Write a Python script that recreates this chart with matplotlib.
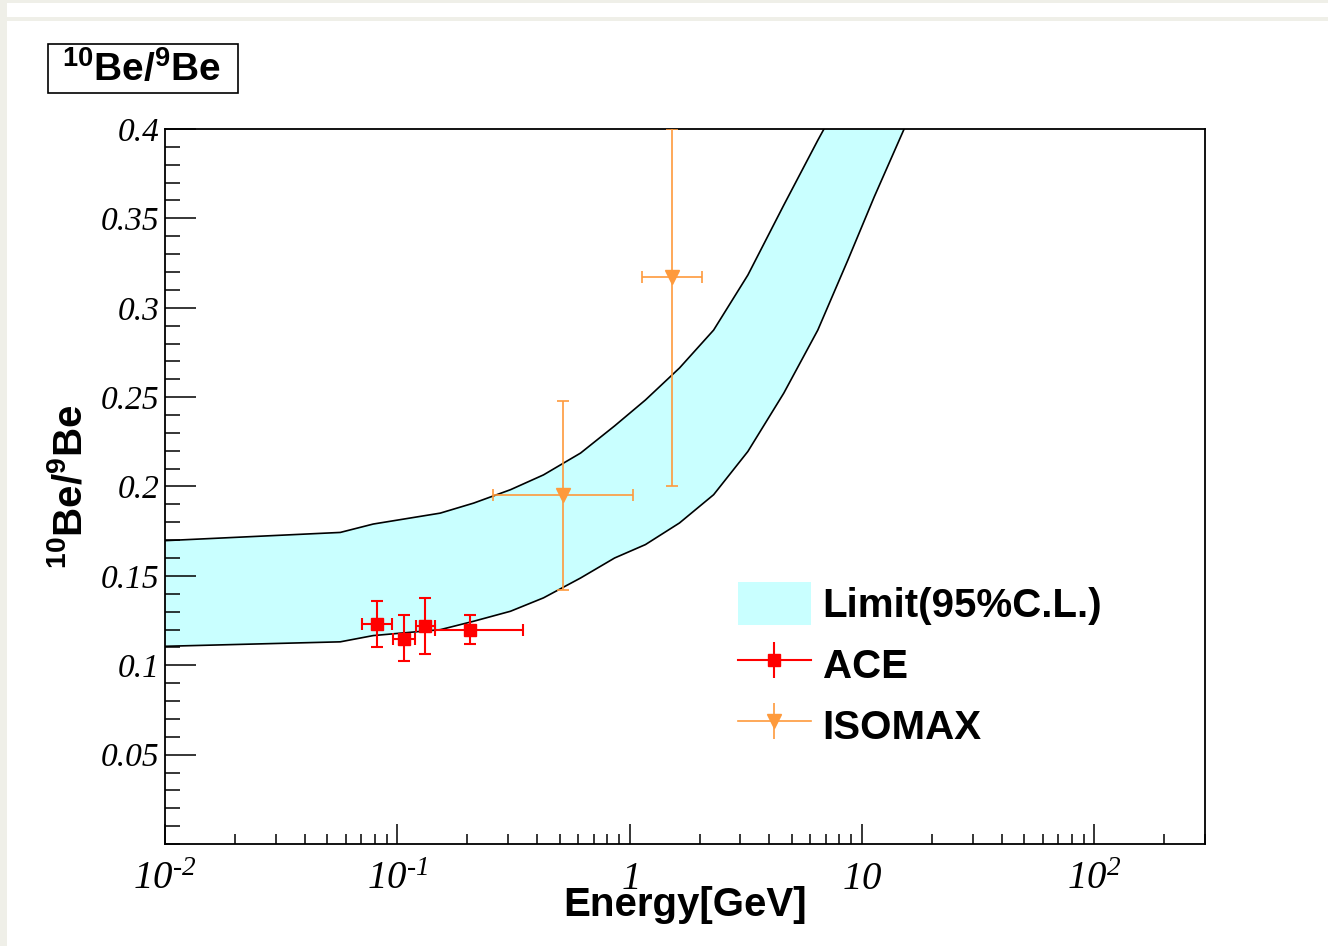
import matplotlib
matplotlib.use("Agg")
import matplotlib.pyplot as plt
from matplotlib.patches import Rectangle, Patch
from matplotlib.lines import Line2D
from matplotlib.ticker import MultipleLocator, LogLocator, NullFormatter

plt.rcParams['mathtext.fontset'] = 'custom'
plt.rcParams['mathtext.rm'] = 'Liberation Serif:italic'
plt.rcParams['mathtext.it'] = 'Liberation Serif:italic'
plt.rcParams['mathtext.bf'] = 'Liberation Sans:bold'

# ---- 95% C.L. band on the 10Be/9Be ratio ----
band_energy = [0.01, 0.0568, 0.0788, 0.153, 0.213, 0.307, 0.426, 0.615, 0.862,
               1.17, 1.64, 2.30, 3.23, 4.61, 6.46, 8.70, 11.3, 15.2]
band_upper = [0.1697, 0.1743, 0.1790, 0.1851, 0.1907, 0.1982, 0.2065, 0.2187,
              0.2339, 0.2484, 0.2663, 0.2875, 0.3183, 0.3574, 0.3937, 0.4244]
band_lower = [0.1106, 0.1131, 0.1166, 0.1199, 0.1246, 0.1302, 0.1377, 0.1488,
              0.1600, 0.1675, 0.1796, 0.1954, 0.2196, 0.2522, 0.2875, 0.3266,
              0.3620, 0.4000]

# ---- ACE measurements ----
ace_energy = [0.0818, 0.1064, 0.132, 0.2063]
ace_e_low = [0.0705, 0.0955, 0.1207, 0.145]
ace_e_high = [0.0948, 0.1196, 0.1449, 0.349]
ace_ratio = [0.1231, 0.1149, 0.1222, 0.1199]
ace_r_low = [0.1101, 0.1022, 0.1064, 0.1120]
ace_r_high = [0.1358, 0.1279, 0.1377, 0.1279]

# ---- ISOMAX measurements ----
iso_energy = [0.518, 1.517]
iso_e_low = [0.2585, 1.134]
iso_e_high = [1.037, 2.043]
iso_ratio = [0.195, 0.3173]
iso_r_low = [0.142, 0.200]
iso_r_high = [0.2479, 0.400]

x_ticks = [0.01, 0.1, 1, 10, 100]
x_tick_labels = [r'$10^{\text{-}2}$', r'$10^{\text{-}1}$', r'$1$', r'$10$',
                 r'$10^{2}$']
y_ticks = [0.05, 0.1, 0.15, 0.2, 0.25, 0.3, 0.35, 0.4]
y_tick_labels = ['%g' % v for v in y_ticks]

CYAN = '#c9ffff'
ACE_COLOR = '#ff0000'
ISO_COLOR = '#fe9a3c'
FRAME_BG = '#efefe8'

W, H = 1328, 946
fig = plt.figure(figsize=(W / 100, H / 100), dpi=100)
fig.patch.set_facecolor('white')

# page frame strips
fig.patches.append(Rectangle((0, 0), 7 / W, 1, transform=fig.transFigure,
                             facecolor=FRAME_BG, edgecolor='none', zorder=0))
fig.patches.append(Rectangle((0, 1 - 3 / H), 1, 3 / H, transform=fig.transFigure,
                             facecolor=FRAME_BG, edgecolor='none', zorder=0))
fig.patches.append(Rectangle((0, 1 - 21 / H), 1, 4 / H, transform=fig.transFigure,
                             facecolor=FRAME_BG, edgecolor='none', zorder=0))

ax_l, ax_r, ax_t, ax_b = 165, 1205, 129, 844
ax = fig.add_axes([ax_l / W, 1 - ax_b / H, (ax_r - ax_l) / W, (ax_b - ax_t) / H])
ax.set_xscale('log')
ax.set_xlim(0.01, 300)
ax.set_ylim(0, 0.4)

# band
n_up = len(band_upper)
poly_x = band_energy[:n_up] + band_energy[::-1]
poly_y = band_upper + band_lower[::-1]
ax.fill(poly_x, poly_y, color=CYAN, lw=0, zorder=1)
ax.plot(band_energy[:n_up], band_upper, color='black', lw=1.2, zorder=2)
ax.plot(band_energy, band_lower, color='black', lw=1.2, zorder=2)

# data points with asymmetric errors
ace_xerr = [[e - lo for e, lo in zip(ace_energy, ace_e_low)],
            [hi - e for e, hi in zip(ace_energy, ace_e_high)]]
ace_yerr = [[r - lo for r, lo in zip(ace_ratio, ace_r_low)],
            [hi - r for r, hi in zip(ace_ratio, ace_r_high)]]
ax.errorbar(ace_energy, ace_ratio, xerr=ace_xerr, yerr=ace_yerr, fmt='s',
            color=ACE_COLOR, ms=8, elinewidth=1.5, capsize=4.5, capthick=1.5,
            zorder=4)

iso_xerr = [[e - lo for e, lo in zip(iso_energy, iso_e_low)],
            [hi - e for e, hi in zip(iso_energy, iso_e_high)]]
iso_yerr = [[r - lo for r, lo in zip(iso_ratio, iso_r_low)],
            [hi - r for r, hi in zip(iso_ratio, iso_r_high)]]
ax.errorbar(iso_energy, iso_ratio, xerr=iso_xerr, yerr=iso_yerr, fmt='v',
            color=ISO_COLOR, ms=9.5, elinewidth=1.2, capsize=4.5, capthick=1.2,
            zorder=3)

# axes frame and ticks (ticks inside, on left and bottom only)
for s in ax.spines.values():
    s.set_linewidth(1.3)
ax.set_xticks(x_ticks)
ax.set_xticklabels(x_tick_labels, fontsize=28)
ax.xaxis.set_minor_locator(LogLocator(base=10, subs=range(2, 10), numticks=20))
ax.xaxis.set_minor_formatter(NullFormatter())
ax.set_yticks(y_ticks)
ax.set_yticklabels(y_tick_labels, fontsize=24, fontfamily='Liberation Serif',
                   fontstyle='italic')
ax.yaxis.set_minor_locator(MultipleLocator(0.01))
ax.tick_params(axis='x', which='major', direction='in', length=14.5, width=1.1,
               pad=11, top=False)
ax.tick_params(axis='x', which='minor', direction='in', length=7.2, width=1.1,
               top=False)
ax.tick_params(axis='y', which='major', direction='in', length=22, width=1.1,
               pad=4, right=False)
ax.tick_params(axis='y', which='minor', direction='in', length=11, width=1.1,
               right=False)

ax.set_xlabel('Energy[GeV]', fontsize=29, fontfamily='Liberation Sans',
              fontweight='bold', va='center')
ax.xaxis.set_label_coords(0.5, -(905 - ax_b) / (ax_b - ax_t))
ax.set_ylabel(r'$\mathbf{{}^{10}Be/{}^{9}Be}$', fontsize=29, va='center',
              ha='center')
ax.yaxis.set_label_coords(-(ax_l - 70) / (ax_r - ax_l), 0.5)

# title box
fig.patches.append(Rectangle((48 / W, 1 - 93 / H), 190 / W, 49 / H,
                             transform=fig.transFigure, facecolor='white',
                             edgecolor='black', lw=1.2, zorder=2))
fig.text(142 / W, 1 - 70 / H, r'$\mathbf{{}^{10}Be/{}^{9}Be}$', fontsize=28,
         ha='center', va='center', zorder=3)

# legend
h_band = Patch(facecolor=CYAN, edgecolor='none')
h_ace = (Line2D([], [], color=ACE_COLOR, lw=1.5, marker='s', ms=8),
         Line2D([], [], color=ACE_COLOR, lw=0, marker='|', ms=26, mew=1.5))
h_iso = (Line2D([], [], color=ISO_COLOR, lw=1.2, marker='v', ms=9.5),
         Line2D([], [], color=ISO_COLOR, lw=0, marker='|', ms=26, mew=1.2))
ax.legend([h_band, h_ace, h_iso], ['Limit(95%C.L.)', 'ACE', 'ISOMAX'],
          loc='upper left', bbox_to_anchor=(738 / W, 1 - 582 / H),
          bbox_transform=fig.transFigure, frameon=False, borderpad=0,
          borderaxespad=0, handlelength=1.8, handleheight=1.25,
          handletextpad=0.3, labelspacing=0.45,
          prop={'family': 'Liberation Sans', 'weight': 'bold', 'size': 29})

fig.savefig('out.png', dpi=100)
